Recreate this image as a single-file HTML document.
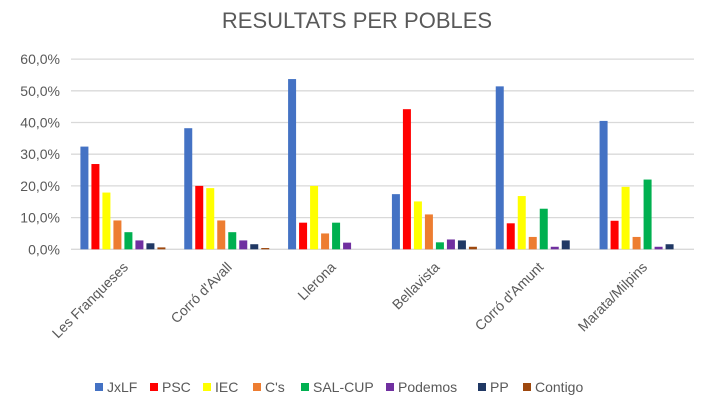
<!DOCTYPE html>
<html><head><meta charset="utf-8"><style>
body{margin:0;background:#fff;}
svg{display:block;font-family:"Liberation Sans",Calibri,sans-serif;}
</style></head><body>
<svg id="chart" width="714" height="410">
<text x="357" y="28" text-anchor="middle" font-size="22" fill="#595959">RESULTATS PER POBLES</text>
<g id="grid"></g><g id="bars"></g><g id="xl"></g><g id="legend"></g>
</svg>
<script>
const categories=["Les Franqueses","Corró d'Avall","Llerona","Bellavista","Corró d'Amunt","Marata/Milpins"];
const seriesNames=["JxLF","PSC","IEC","C's","SAL-CUP","Podemos","PP","Contigo"];
const colors=["#4472C4","#FF0000","#FFFF00","#ED7D31","#00B050","#7030A0","#203864","#9E480E"];
const JxLF=[32.4,38.2,53.7,17.4,51.4,40.5];
const PSC=[26.9,20.0,8.4,44.2,8.2,9.0];
const IEC=[17.9,19.3,20.0,15.1,16.8,19.7];
const Cs=[9.1,9.1,5.0,11.0,3.9,3.9];
const SALCUP=[5.4,5.4,8.4,2.2,12.8,22.0];
const Podemos=[2.8,2.8,2.1,3.1,0.8,0.8];
const PP=[1.9,1.6,0,2.8,2.8,1.6];
const Contigo=[0.6,0.4,0,0.8,0,0];
const yTicks=[0,10,20,30,40,50,60];
const series=[JxLF,PSC,IEC,Cs,SALCUP,Podemos,PP,Contigo];
const NS="http://www.w3.org/2000/svg";
const left=71,right=694,y0=249.3,pxPer=3.17;
const catW=(right-left)/categories.length;
const y=v=>y0-v*pxPer;
function mk(t,a,p){const e=document.createElementNS(NS,t);for(const k in a)e.setAttribute(k,a[k]);p.appendChild(e);return e;}
const grid=document.getElementById('grid');
yTicks.forEach(t=>{
 const l=mk('line',{x1:left,x2:right,y1:y(t),y2:y(t),stroke:'#D9D9D9','stroke-width':1.3},grid);
 
 
 const tx=mk('text',{x:60,y:y(t)+5,'text-anchor':'end','font-size':14,fill:'#595959'},grid);
 tx.textContent=t.toFixed(1).replace('.',',')+'%';
 
 
});
const bars=document.getElementById('bars');
const step=11,bw=8;
categories.forEach((c,i)=>{
 const cx=left+catW*(i+0.5);
 const start=cx-(series.length*step-3)/2;
 series.forEach((s,j)=>{
  const v=s[i];
  const r=mk('rect',{x:start+j*step,y:y(v),width:bw,height:Math.max(0,y0-y(v)),fill:colors[j]},bars);
  
  
 });
 const tx=mk('text',{x:cx+6,y:268,'text-anchor':'end','font-size':14,fill:'#595959',transform:`rotate(-45 ${cx+6} 268)`},document.getElementById('xl'));
 tx.textContent=c;
 
 
});
const lg=document.getElementById('legend');
const lx=[95,150,203,253,301,386,478,523];
seriesNames.forEach((n,j)=>{
 const g=mk('g',{},lg);
 
 
 mk('rect',{x:lx[j],y:383,width:8,height:8,fill:colors[j]},g);
 const t=mk('text',{x:lx[j]+12,y:392,'font-size':14,fill:'#595959'},g);
 t.textContent=n;
});
</script>
</body></html>
